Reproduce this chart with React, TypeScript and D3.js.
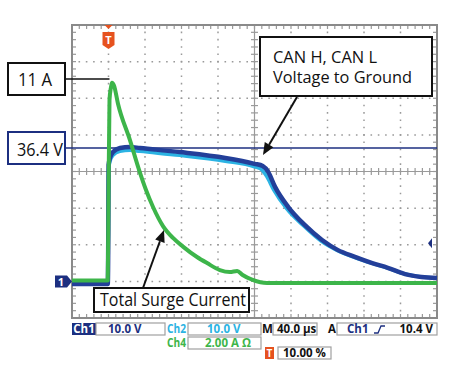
import React from 'react';
import * as d3 from 'd3';

// ---- data (time in µs, relative to trigger) ----
const ch1Time = [-40, -0.8, -0.2, 0.1, 1.6, 4.9, 12.6, 23.6, 34.5, 78, 128, 160, 169, 175, 182.5, 197, 215, 234, 251, 270, 289, 306, 325, 343, 360];
const ch1Volts = [-0.7, -0.7, 14.0, 31.8, 33.7, 35.3, 36.4, 36.7, 36.4, 35.3, 33.7, 32.1, 31.5, 29.9, 25.8, 20.3, 15.4, 11.3, 8.6, 6.7, 5.0, 3.7, 2.0, 1.2, 0.9];

const ch2Time = [-40, -0.8, -0.2, 0.1, 1.6, 4.9, 12.6, 23.6, 34.5, 78, 128, 160, 167, 173, 181, 195, 214, 233, 251, 270, 289, 306, 325, 343, 360];
const ch2Volts = [-0.7, -0.7, 13.0, 30.6, 32.7, 34.4, 35.5, 35.8, 35.5, 34.4, 32.8, 31.3, 30.7, 28.8, 25.0, 19.9, 15.1, 11.0, 8.4, 6.5, 4.9, 3.6, 2.0, 1.2, 0.9];

const ch4Time = [-40, -0.8, 0, 1.1, 2.7, 3.8, 6, 10.4, 23.6, 33.4, 41, 48.8, 59.7, 70.7, 81.6, 97, 108, 122, 133, 141, 147, 158, 173.7, 360];
const ch4Amps = [0.05, 0.05, 4.4, 9.9, 10.6, 10.85, 10.7, 9.7, 7.7, 6.1, 5.0, 4.06, 3.02, 2.37, 1.9, 1.33, 1.0, 0.62, 0.51, 0.57, 0.35, 0.08, -0.09, -0.09];

const timeDomain = [-40, 360];
const divDomain = [-4, 4];
const divsX = 10;
const divsY = 8;
const minorPerDiv = 5;
const ch1VoltsPerDiv = 10;
const ch2VoltsPerDiv = 10;
const ch4AmpsPerDiv = 2;
const groundDiv = -3;
const calloutAmps = 11;
const calloutVolts = 36.4;
const triggerLevel = 10.4;

const calloutAmpsLabel = '11 A';
const calloutVoltsLabel = '36.4 V';
const canLabel = ['CAN H, CAN L', 'Voltage to Ground'];
const surgeLabel = 'Total Surge Current';
const ch1Readout = ['Ch1', '10.0 V'];
const ch2Readout = ['Ch2', '10.0 V'];
const ch4Readout = ['Ch4', '2.00 A Ω'];
const timeReadout = ['M', '40.0 µs'];
const trigReadout = ['A', 'Ch1', '10.4 V'];
const posReadout = ['T', '10.00 %'];

const BLUE = '#233f99';
const NAVY = '#1c2f80';
const CYAN = '#2bb3e3';
const GREEN = '#3db54a';
const ORANGE = '#e6521f';
const GRID = '#9a9a9a';
const FONT = '"Open Sans", "Noto Sans", sans-serif';

export default function App() {
  const L = 72, R = 437, T = 25, B = 318;
  const x = d3.scaleLinear().domain(timeDomain).range([L, R]);
  const yDiv = d3.scaleLinear().domain(divDomain).range([B, T]);
  const y1 = (v: number) => yDiv(groundDiv + v / ch1VoltsPerDiv);
  const y2 = (v: number) => yDiv(groundDiv + v / ch2VoltsPerDiv);
  const y4 = (a: number) => yDiv(groundDiv + a / ch4AmpsPerDiv);

  const line = d3.line<[number, number]>().curve(d3.curveMonotoneX);
  const p1 = line(ch1Time.map((t, i) => [x(t), y1(ch1Volts[i])]))!;
  const p2 = line(ch2Time.map((t, i) => [x(t), y2(ch2Volts[i])]))!;
  const p4 = line(ch4Time.map((t, i) => [x(t), y4(ch4Amps[i])]))!;

  const dx = (R - L) / divsX;
  const dy = (B - T) / divsY;
  const cx = (L + R) / 2;
  const cy = (T + B) / 2;

  const gridV = d3.range(1, divsX).filter((i) => i !== divsX / 2).map((i) => L + i * dx);
  const gridH = d3.range(1, divsY).filter((i) => i !== divsY / 2).map((i) => T + i * dy);
  const minorX = d3.range(1, divsX * minorPerDiv).map((i) => L + (i * dx) / minorPerDiv);
  const minorY = d3.range(1, divsY * minorPerDiv).map((i) => T + (i * dy) / minorPerDiv);

  const ticks: JSX.Element[] = [];
  minorX.forEach((xx, i) => {
    ticks.push(<line key={'tc' + i} x1={xx} x2={xx} y1={cy - 3.5} y2={cy + 3.5} />);
    ticks.push(<line key={'tt' + i} x1={xx} x2={xx} y1={T} y2={T + 4} />);
    ticks.push(<line key={'tb' + i} x1={xx} x2={xx} y1={B} y2={B - 4} />);
  });
  minorY.forEach((yy, i) => {
    ticks.push(<line key={'lc' + i} x1={cx - 3.5} x2={cx + 3.5} y1={yy} y2={yy} />);
    ticks.push(<line key={'ll' + i} x1={L} x2={L + 4} y1={yy} y2={yy} />);
    ticks.push(<line key={'lr' + i} x1={R} x2={R - 4} y1={yy} y2={yy} />);
  });

  const trigX = x(0);
  const yAmp = y4(calloutAmps);
  const yVolt = y1(calloutVolts);
  const yTrig = y1(triggerLevel);
  const yGround = y1(0);

  const dotDash = `1.6 ${(dy / minorPerDiv - 1.6).toFixed(3)}`;
  const dotDashX = `1.6 ${(dx / minorPerDiv - 1.6).toFixed(3)}`;

  const arrow = (x1: number, y1a: number, x2: number, y2a: number, key: string) => {
    const ang = Math.atan2(y2a - y1a, x2 - x1);
    const len = 12, w = 5;
    const bx = x2 - len * Math.cos(ang), by = y2a - len * Math.sin(ang);
    const pts = [
      [x2, y2a],
      [bx + w * Math.sin(ang), by - w * Math.cos(ang)],
      [bx - w * Math.sin(ang), by + w * Math.cos(ang)],
    ];
    return (
      <g key={key}>
        <line x1={x1} y1={y1a} x2={bx} y2={by} stroke="#111" strokeWidth={2} />
        <polygon points={pts.map((p) => p.join(',')).join(' ')} fill="#111" />
      </g>
    );
  };

  const bfs = 11.5;
  return (
    <svg width={450} height={378} style={{ position: 'absolute', left: 0, top: 0, background: '#fff' }} fontFamily={FONT}>
      <rect x={0} y={0} width={450} height={378} fill="#fff" />
      {/* dotted grid */}
      <g stroke={GRID} strokeWidth={1.5}>
        {gridV.map((gx, i) => (
          <line key={'gv' + i} x1={gx} x2={gx} y1={T} y2={B} strokeDasharray={dotDash} strokeDashoffset={0.8} />
        ))}
        {gridH.map((gy, i) => (
          <line key={'gh' + i} x1={L} x2={R} y1={gy} y2={gy} strokeDasharray={dotDashX} strokeDashoffset={0.8} />
        ))}
      </g>
      {/* center cross and ticks */}
      <g stroke={GRID} strokeWidth={1.2}>
        <line x1={cx} x2={cx} y1={T} y2={B} />
        <line x1={L} x2={R} y1={cy} y2={cy} />
        {ticks}
      </g>
      <rect x={L} y={T} width={R - L} height={B - T} fill="none" stroke="#8a8a8a" strokeWidth={2} />

      {/* 36.4 V reference line */}
      <line x1={65} x2={R} y1={yVolt} y2={yVolt} stroke={NAVY} strokeWidth={1.6} />

      {/* traces */}
      <path d={p2} fill="none" stroke={CYAN} strokeWidth={3.5} strokeLinejoin="round" />
      <path d={p1} fill="none" stroke={BLUE} strokeWidth={4.5} strokeLinejoin="round" />
      <path d={p4} fill="none" stroke={GREEN} strokeWidth={4} strokeLinejoin="round" />

      {/* trigger marker */}
      <path d={`M${trigX - 4},${T} L${trigX + 4},${T} L${trigX},${T + 4} Z`} fill={ORANGE} />
      <path d={`M${trigX - 6},${T + 7} L${trigX + 6},${T + 7} L${trigX + 6},${T + 20} L${trigX},${T + 24} L${trigX - 6},${T + 20} Z`} fill={ORANGE} />
      <text x={trigX} y={T + 19} textAnchor="middle" fontSize={11} fontWeight="bold" fill="#fff">T</text>

      {/* ch1 ground marker */}
      <path d={`M${L - 17},${yGround - 6} L${L - 5},${yGround - 6} L${L},${yGround} L${L - 5},${yGround + 6} L${L - 17},${yGround + 6} Z`} fill={NAVY} />
      <text x={L - 11} y={yGround + 4.5} textAnchor="middle" fontSize={11} fontWeight="bold" fill="#fff">1</text>

      {/* trigger level marker */}
      <path d={`M${R - 9},${yTrig} L${R - 5},${yTrig - 5} L${R - 5},${yTrig + 5} Z`} fill={NAVY} />

      {/* 11 A callout */}
      <line x1={65} x2={trigX + 1} y1={yAmp - 1} y2={yAmp - 1} stroke="#111" strokeWidth={1.5} />
      <rect x={8} y={63} width={57} height={32} fill="#fff" stroke="#111" strokeWidth={2} />
      <text x={18} y={86} fontSize={18} fill="#111" textLength={34} lengthAdjust="spacingAndGlyphs">{calloutAmpsLabel}</text>

      {/* 36.4 V callout */}
      <rect x={8} y={132} width={57} height={32} fill="#fff" stroke={NAVY} strokeWidth={2} />
      <text x={17} y={155.5} fontSize={18} fill="#111" textLength={46} lengthAdjust="spacingAndGlyphs">{calloutVoltsLabel}</text>

      {/* CAN callout */}
      {arrow(297, 97, 263, 155, 'a1')}
      <rect x={260} y={37} width={172} height={59} fill="#fff" stroke="#111" strokeWidth={2} />
      <text x={273} y={63} fontSize={16} fill="#111" textLength={104} lengthAdjust="spacingAndGlyphs">{canLabel[0]}</text>
      <text x={273} y={83} fontSize={16} fill="#111" textLength={139} lengthAdjust="spacingAndGlyphs">{canLabel[1]}</text>

      {/* Surge callout */}
      {arrow(143, 288, 164, 230, 'a2')}
      <rect x={94} y={288} width={155} height={24} fill="#fff" stroke="#111" strokeWidth={2} />
      <text x={100} y={305.5} fontSize={18} fill="#111" textLength={146} lengthAdjust="spacingAndGlyphs">{surgeLabel}</text>

      {/* readouts */}
      <g fontSize={bfs} fontWeight="bold">
        <rect x={72} y={323} width={24} height={12} fill={NAVY} />
        <text x={84} y={333} textAnchor="middle" fill="#fff">{ch1Readout[0]}</text>
        <rect x={96} y={323} width={69} height={12} fill="#fff" stroke="#a0a0a0" strokeWidth={1.2} />
        <text x={108} y={333} fill={NAVY}>{ch1Readout[1]}</text>

        <text x={167} y={333} fill={CYAN} textLength={19} lengthAdjust="spacingAndGlyphs">{ch2Readout[0]}</text>
        <rect x={188} y={323} width={73} height={12} fill="#fff" stroke="#a0a0a0" strokeWidth={1.2} />
        <text x={207} y={333} fill={CYAN}>{ch2Readout[1]}</text>

        <text x={167} y={347} fill={GREEN} textLength={19} lengthAdjust="spacingAndGlyphs">{ch4Readout[0]}</text>
        <rect x={188} y={337} width={73} height={12} fill="#fff" stroke="#a0a0a0" strokeWidth={1.2} />
        <text x={205} y={347} fill={GREEN}>{ch4Readout[1]}</text>

        <text x={262} y={333} fill="#111">{timeReadout[0]}</text>
        <rect x={273} y={323} width={44} height={12} fill="#fff" stroke="#a0a0a0" strokeWidth={1.2} />
        <text x={277} y={333} fill="#111">{timeReadout[1]}</text>

        <text x={328} y={333} fill="#111">{trigReadout[0]}</text>
        <rect x={337} y={323} width={100} height={12} fill="#fff" stroke="#a0a0a0" strokeWidth={1.2} />
        <text x={347} y={333} fill={NAVY}>{trigReadout[1]}</text>
        <path d="M374,333 L378,333 L381,326 L385,326" fill="none" stroke={NAVY} strokeWidth={1.3} />
        <text x={433} y={333} textAnchor="end" fill="#111">{trigReadout[2]}</text>

        <rect x={265} y={347} width={9} height={12} fill={ORANGE} />
        <text x={269.5} y={357} textAnchor="middle" fill="#fff" fontSize={10}>{posReadout[0]}</text>
        <rect x={278} y={347} width={53} height={12} fill="#fff" stroke="#a0a0a0" strokeWidth={1.2} />
        <text x={283} y={357} fill="#111">{posReadout[1]}</text>
      </g>
    </svg>
  );
}
